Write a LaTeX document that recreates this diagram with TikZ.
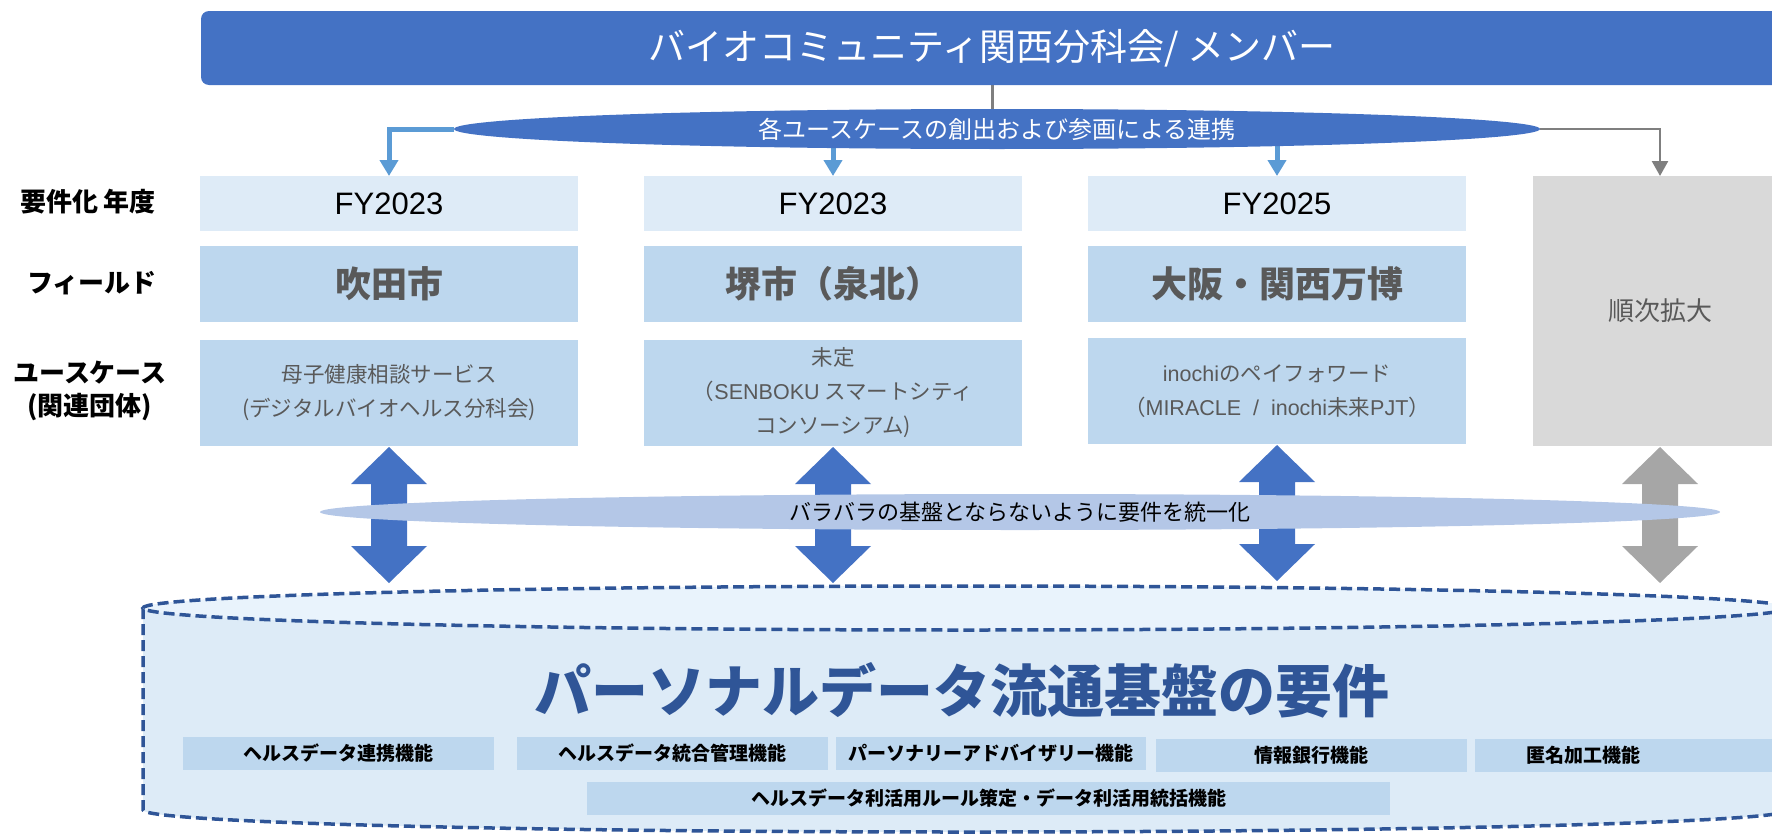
\documentclass[tikz,border=0pt]{standalone}
\usepackage{fontspec}
\setmainfont{Noto Sans CJK JP}
\newfontfamily\latfont{Liberation Sans}
\usetikzlibrary{arrows.meta,calc,shapes.geometric}
\definecolor{cBanner}{HTML}{4472C4}
\definecolor{cArrowBlue}{HTML}{5B9BD5}
\definecolor{cGrayLine}{HTML}{7F7F7F}
\definecolor{cYear}{HTML}{DEEBF7}
\definecolor{cField}{HTML}{BDD7EE}
\definecolor{cGrayBox}{HTML}{D9D9D9}
\definecolor{cGrayText}{HTML}{595959}
\definecolor{cDark}{HTML}{2F5597}
\definecolor{cEllB}{HTML}{B4C7E7}
\definecolor{cDbl}{HTML}{A6A6A6}
\definecolor{cCyl}{HTML}{DDEBF7}
\definecolor{cCylTop}{HTML}{E9F3FC}
\newcommand\latx[1]{{\latfont #1}}
\newcommand\dblarrowat[2]{\fill[#2] ($(#1)+(0,1)$) -- ++(38,37) -- ++(-20,0) -- ++(0,62) -- ++(20,0) -- ++(-38,37) -- ++(-38,-37) -- ++(20,0) -- ++(0,-62) -- ++(-20,0) -- cycle;}
\pgfdeclarelayer{bg}
\pgfsetlayers{bg,main}
\begin{document}
\begin{tikzpicture}[x=0.5pt,y=-0.5pt,
  box/.style={inner sep=0pt, outer sep=0pt, anchor=center},
  yearbox/.style={box, fill=cYear, minimum width=189pt, minimum height=27.5pt, font=\latfont\fontsize{15.5}{18}\selectfont},
  fieldbox/.style={box, fill=cField, minimum width=189pt, minimum height=38pt, text=cGrayText, font=\bfseries\fontsize{18}{20}\selectfont},
  usebox/.style={box, fill=cField, minimum width=189pt, minimum height=53pt, text=cGrayText, align=center, font=\fontsize{10.75}{17}\selectfont},
  funcbox/.style={box, fill=cField, minimum height=16.5pt, font=\bfseries\fontsize{9.5}{11}\selectfont},
  rowlabel/.style={box, align=center, font=\bfseries\fontsize{13}{16.5}\selectfont},
  bluearrow/.style={draw=cArrowBlue, line width=2.5pt, -{Triangle[width=9pt,length=8pt]}},
  grayarrow/.style={draw=cGrayLine, line width=1.25pt, -{Triangle[width=8pt,length=7.5pt]}},
  cyldash/.style={draw=cDark, line width=1.75pt, dash pattern=on 5.5pt off 2.5pt}
]
\useasboundingbox (0,0) rectangle (1772,835);
\clip (0,0) rectangle (1772,835);

% banner and top ellipse
\node[box, fill=cBanner, rounded corners=4pt, minimum width=791pt, minimum height=37pt, text=white, font=\fontsize{18.5}{20}\selectfont] (banner) at (992,48) {バイオコミュニティ関西分科会/ メンバー};
\node[box, ellipse, fill=cBanner, minimum width=543pt, minimum height=20pt, text=white, font=\fontsize{12}{14}\selectfont] (e1) at (997,129) {各ユースケースの創出および参画による連携};

% row labels
\node[rowlabel] (l1) at (88,202) {要件化 年度};
\node[rowlabel] (l2) at (92,283) {フィールド};
\node[rowlabel] (l3) at (90,391) {ユースケース\\(関連団体)};

% columns
\node[yearbox] (y1) at (389,203.5) {FY2023};
\node[yearbox] (y2) at (833,203.5) {FY2023};
\node[yearbox] (y3) at (1277,203.5) {FY2025};
\node[fieldbox] (f1) at (389,284) {吹田市};
\node[fieldbox] (f2) at (833,284) {堺市（泉北）};
\node[fieldbox] (f3) at (1277,284) {大阪・関西万博};
\node[usebox] (u1) at (389,393) {母子健康相談サービス\\(デジタルバイオヘルス分科会)};
\node[usebox] (u2) at (833,393) {未定\\（\latx{SENBOKU} スマートシティ\\コンソーシアム)};
\node[usebox] (u3) at (1277,391) {\latx{inochi}のペイフォワード\\（\latx{MIRACLE\ \ /\ \ inochi}未来\latx{PJT}）};
\node[box, fill=cGrayBox, minimum width=127pt, minimum height=135pt, text=cGrayText, font=\fontsize{13}{15}\selectfont] (g) at (1660,311) {順次拡大};

% connectors from top ellipse
\begin{pgfonlayer}{bg}
\draw[draw=cGrayLine, line width=1.5pt] (banner.south) -- (banner.south |- e1.center);
\draw[bluearrow] (e1.west) -| (y1.north);
\draw[bluearrow] (y2.north |- e1.center) -- (y2.north);
\draw[bluearrow] (y3.north |- e1.center) -- (y3.north);
\draw[grayarrow] (e1.east) -| (g.north);
\end{pgfonlayer}

% cylinder
\fill[cCyl] (143,608) -- (143,810) arc[start angle=180,end angle=0,x radius=823,y radius=22] -- (1789,608) arc[start angle=0,end angle=-180,x radius=823,y radius=22] -- cycle;
\draw[cyldash] (143,608) -- (143,810) arc[start angle=180,end angle=0,x radius=823,y radius=22] -- (1789,608);
\fill[cCylTop] (966,608) ellipse[x radius=823,y radius=22];
\draw[cyldash] (966,608) ellipse[x radius=823,y radius=22];

% double arrows
\dblarrowat{u1.south}{cBanner}
\dblarrowat{u2.south}{cBanner}
\dblarrowat{u3.south}{cBanner}
\dblarrowat{g.south}{cDbl}

\node[box, ellipse, fill=cEllB, minimum width=700pt, minimum height=18pt, font=\fontsize{11}{13}\selectfont] (e2) at (1020,512) {バラバラの基盤とならないように要件を統一化};

% title and functions
\node[box, text=cDark, font=\bfseries\fontsize{28.5}{32}\selectfont] (title) at (962,690) {パーソナルデータ流通基盤の要件};
\node[funcbox, minimum width=155.5pt] (k1) at (338.5,753) {ヘルスデータ連携機能};
\node[funcbox, minimum width=155.5pt] (k2) at (672.5,753.5) {ヘルスデータ統合管理機能};
\node[funcbox, minimum width=155pt] (k3) at (991,753.5) {パーソナリーアドバイザリー機能};
\node[funcbox, minimum width=155.5pt] (k4) at (1311.5,755.5) {情報銀行機能};
\node[funcbox, minimum width=162.5pt] (k5) at (1637.5,755.5) {};
\node[box, font=\bfseries\fontsize{9.5}{11}\selectfont] (k5t) at (1583,755.5) {匿名加工機能};
\node[funcbox, minimum width=401.5pt] (k6) at (988.5,798.5) {ヘルスデータ利活用ルール策定・データ利活用統括機能};
\end{tikzpicture}
\end{document}
